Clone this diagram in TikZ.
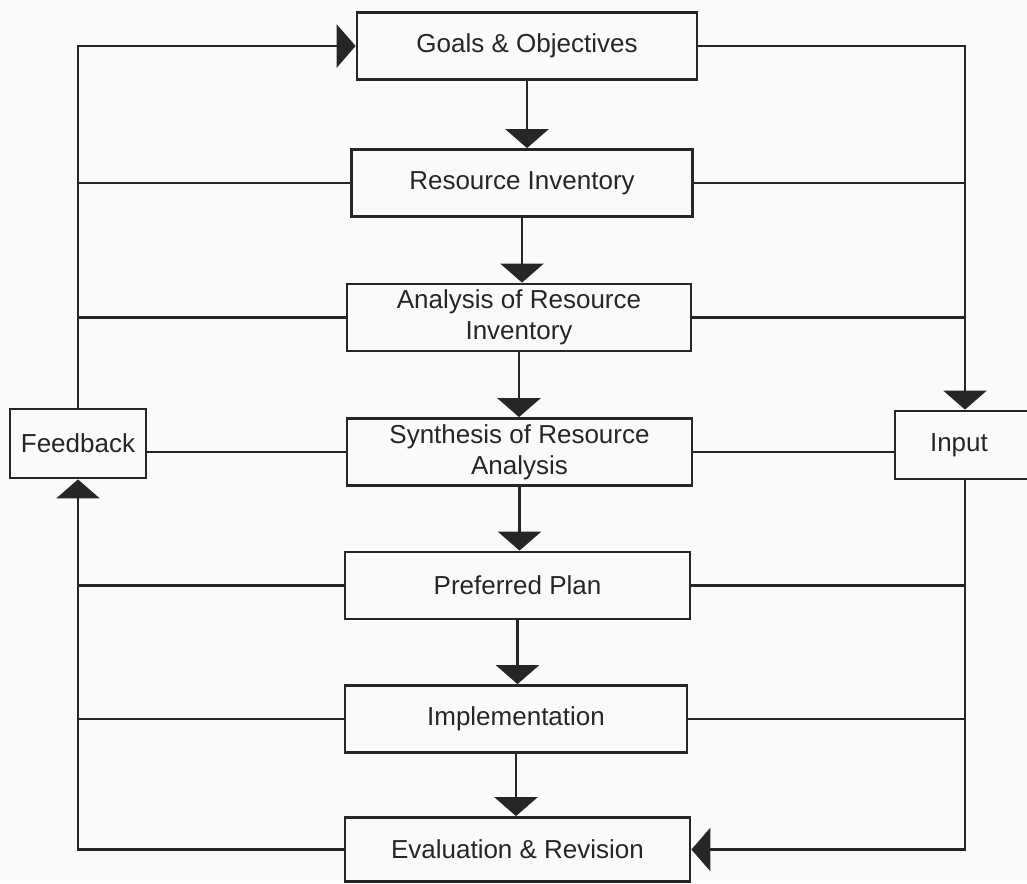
\documentclass[tikz,border=0pt]{standalone}
\usepackage{fontspec}
\setmainfont{Liberation Sans}
\usetikzlibrary{arrows.meta}
\definecolor{ink}{HTML}{262626}
\definecolor{paper}{HTML}{FAFAF8}
\begin{document}
\begin{tikzpicture}[x=0.02cm,y=-0.02cm,
  stage/.style={draw=ink, line width=1.6pt, fill=paper, text=ink, align=center,
    inner sep=0pt, font=\fontsize{14.8}{17.5}\selectfont, minimum height=1.34cm},
  link/.style={draw=ink, line width=1.6pt},
  flow/.style={link, -{Triangle[width=0.86cm,length=0.38cm]}}]
\useasboundingbox (0,0) rectangle (1027,883);
\fill[paper] (0,0) rectangle (1027,883);
\clip (0,0) rectangle (1027,883);

% main chain of stages
\node[stage, minimum width=6.8cm]  (goals) at (527,46)    {Goals \& Objectives};
\node[stage, minimum width=6.82cm] (res)   at (522,183)   {Resource Inventory};
\node[stage, minimum width=6.88cm] (ana)   at (519,317.5) {Analysis of Resource\\Inventory};
\node[stage, minimum width=6.9cm]  (syn)   at (519.5,452) {Synthesis of Resource\\Analysis};
\node[stage, minimum width=6.9cm]  (pref)  at (517.5,585.5) {Preferred Plan};
\node[stage, minimum width=6.84cm] (impl)  at (516,719)   {Implementation};
\node[stage, minimum width=6.9cm, minimum height=1.28cm] (eval) at (517.5,849.5) {Evaluation \& Revision};

% side boxes (the input box runs past the right edge)
\node[stage, minimum width=2.72cm, minimum height=1.38cm] (fb) at (78,443.5) {Feedback};
\node[stage, minimum width=3.6cm, minimum height=1.36cm, text width=3.4cm, align=left]
  (inp) at (985,445) {\hspace*{0.6cm}Input};

% rails
\coordinate (lx) at (78,0);
\coordinate (rx) at (965,0);

% downward flow
\draw[flow] (goals.south) -- (goals.south |- res.north);
\draw[flow] (res.south)   -- (res.south |- ana.north);
\draw[flow] (ana.south)   -- (ana.south |- syn.north);
\draw[flow] (syn.south)   -- (syn.south |- pref.north);
\draw[flow] (pref.south)  -- (pref.south |- impl.north);
\draw[flow] (impl.south)  -- (impl.south |- eval.north);

% feedback loop (left)
\draw[flow] (fb.north) |- (goals.west);
\draw[link] (res.west) -- (res.west -| lx);
\draw[link] (ana.west) -- (ana.west -| lx);
\draw[link] (syn.west) -- (syn.west -| fb.east);
\draw[link] (pref.west) -- (pref.west -| lx);
\draw[link] (impl.west) -- (impl.west -| lx);
\draw[flow] (eval.west) -| (fb.south);

% input loop (right)
\draw[flow] (goals.east) -| (inp.north -| rx);
\draw[link] (res.east) -- (res.east -| rx);
\draw[link] (ana.east) -- (ana.east -| rx);
\draw[link] (syn.east) -- (syn.east -| inp.west);
\draw[link] (pref.east) -- (pref.east -| rx);
\draw[link] (impl.east) -- (impl.east -| rx);
\draw[flow] (inp.south -| rx) |- (eval.east);
\end{tikzpicture}
\end{document}
